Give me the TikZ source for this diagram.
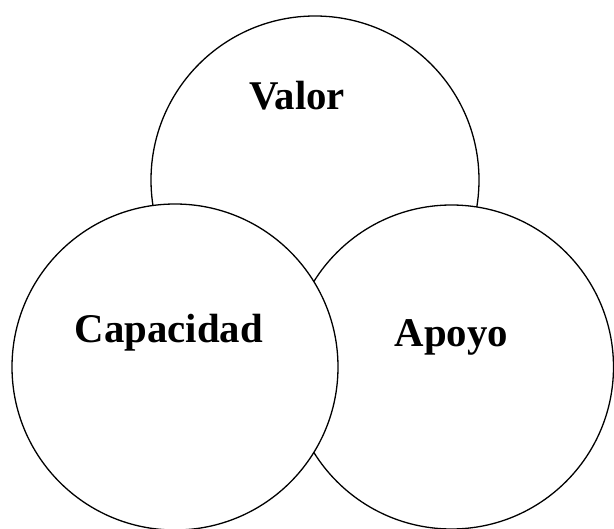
\documentclass[tikz,border=0pt]{standalone}
\usepackage{fontspec}
\setmainfont{Liberation Serif}
\usepackage{tikz}
\tikzset{
  % Circle styles
  setcircle/.style={circle, draw=black, fill=white, line width=1.3pt, inner sep=0pt, minimum size=#1},
  % Label styles
  setlabel/.style={anchor=base, inner sep=0pt, font=\fontsize{40.8}{48}\selectfont\bfseries}
}
\begin{document}
\begin{tikzpicture}[x=1pt, y=-1pt]
  \useasboundingbox (0,0) rectangle (614,529);

  % Circles, back to front
  \node[setcircle=328pt] (valor) at (315,180) {};
  \node[setcircle=324pt] (apoyo) at (451.5,367) {};
  \node[setcircle=326pt] (capacidad) at (175,367) {};

  % Labels
  \node[setlabel] (valortext) at (297,110) {Valor};
  \node[setlabel] (apoyotext) at (451.5,347) {Apoyo};
  \node[setlabel] (capacidadtext) at (169,343) {Capacidad};
\end{tikzpicture}
\end{document}
